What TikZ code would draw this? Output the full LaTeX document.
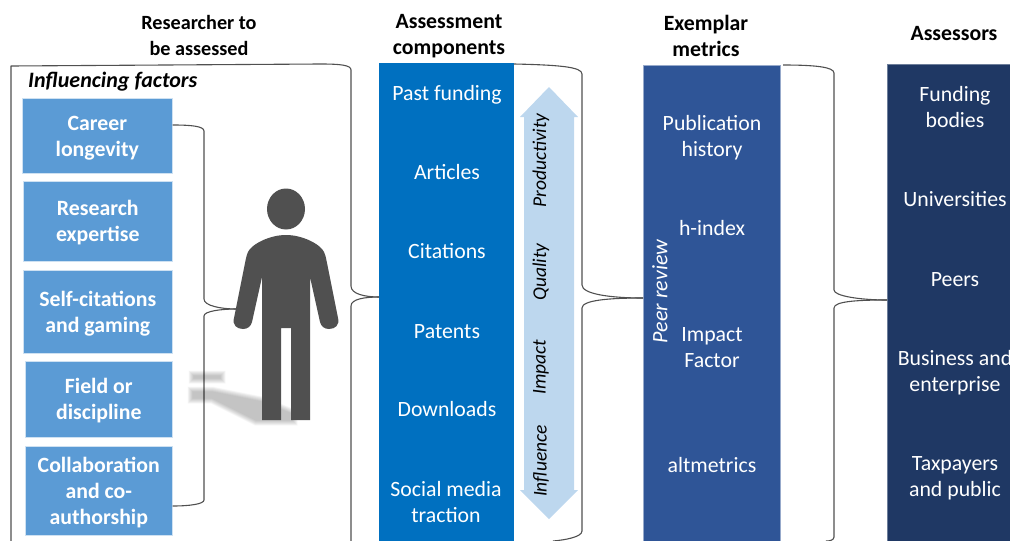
\documentclass[tikz,border=0pt]{standalone}
\usepackage{fontspec}
\setmainfont{Carlito}
\usetikzlibrary{calc}
\definecolor{factorblue}{HTML}{5B9BD5}
\definecolor{compblue}{HTML}{0070C0}
\definecolor{metricblue}{HTML}{2F5597}
\definecolor{assessblue}{HTML}{1F3864}
\definecolor{arrowblue}{HTML}{BDD7EE}
\definecolor{personc}{HTML}{505050}
\definecolor{bracec}{HTML}{505050}
\tikzset{
  x=1pt,y=-1pt,
  txt/.style={font=\fontsize{21.8}{26}\selectfont,align=center,text=white,inner sep=0pt},
  head/.style={font=\fontsize{21.8}{26.5}\selectfont\bfseries,align=center,text=black,inner sep=0pt},
  factor/.style={fill=factorblue,draw=white!70!factorblue,line width=.6pt,inner sep=0pt,font=\fontsize{21.8}{26}\selectfont\bfseries,text=white},
  band/.style={font=\fontsize{19.5}{22}\selectfont\itshape,text=black,rotate=90,inner sep=0pt},
  bracket/.style={draw=bracec,line width=1.1pt,line join=round},
}
\newcommand{\factorbox}[5]{\node[factor,minimum width=#3 pt,minimum height=#4 pt,anchor=north west] (#1) at #2 {\raisebox{-2pt}[\height][\depth]{\begin{tabular}{@{}c@{}}#5\end{tabular}}};}
\begin{document}
\begin{tikzpicture}
\useasboundingbox (0,0) rectangle (1010,541);
% column fills
\fill[compblue] (379,63) rectangle (514,545);
\draw[fill=metricblue,draw=white!50!metricblue,line width=.6pt] (643,65) rectangle (780,545);
\draw[fill=assessblue,draw=white!35!assessblue,line width=.6pt] (887,64) rectangle (1015,545);
\coordinate (compw) at (379,297);
\coordinate (metw) at (643,298);
\coordinate (assw) at (887,300);
% headings
\node[head,font=\fontsize{20.2}{26.5}\selectfont\bfseries] (h1) at (199,35.5) {Researcher to\\be assessed};
\node[head] (h2) at (449,36) {Assessment\\components};
\node[head] (h3) at (706,36) {Exemplar\\metrics};
\node[head] (h4) at (954,34) {Assessors};
% outer bracket
\draw[bracket] (11,545) -- (11,66) -- (320,64) .. controls (340,64) and (351,65) .. (351,70) -- (351,286) .. controls (351,294) and (365,297) .. (compw);
\draw[bracket] (compw) .. controls (365,297) and (351,299) .. (351,306) -- (351,545);
% second bracket
\draw[bracket] (514,64) .. controls (560,65) and (582,67) .. (582,74) -- (582,285) .. controls (582,294) and (610,298) .. (metw);
\draw[bracket] (metw) .. controls (610,298) and (582,300) .. (582,308) -- (582,531) .. controls (582,537) and (565,540) .. (553,541);
% third bracket
\draw[bracket] (783,65) .. controls (815,65) and (834,67) .. (834,73) -- (834,290) .. controls (834,296) and (860,300) .. (assw);
\draw[bracket] (assw) .. controls (860,300) and (834,301) .. (834,308) -- (834,537) .. controls (834,540) and (830,541) .. (826,541);
% factor boxes
\factorbox{f1}{(22,98)}{150}{75}{Career\\longevity}
\factorbox{f2}{(23,181)}{149}{80}{Research\\expertise}
\factorbox{f3}{(23,270)}{149}{83}{Self-citations\\and gaming}
\factorbox{f4}{(25,361)}{147}{76}{Field or\\discipline}
\factorbox{f5}{(25,446)}{147}{89}{Collaboration\\and co-\\authorship}
\node[font=\fontsize{22}{26}\selectfont\bfseries\itshape,text=black,anchor=west,inner sep=0pt] (inf) at (28,82) {Influencing factors};
% inner bracket
\coordinate (personw) at (236,309);
\draw[bracket] (f1.east|-0,125) .. controls (190,125) and (204,126) .. (204,131) -- (204,299) .. controls (204,306) and (222,309) .. (personw);
\draw[bracket] (personw) .. controls (222,309) and (204,311) .. (204,316) -- (204,500) .. controls (204,504) and (190,506) .. (f5.east|-0,506);
% shadow
\foreach \w in {1,2,...,11}{
  \begin{scope}[transparency group,opacity=.024,line cap=round,line join=round]
  \filldraw[black,line width=\w pt]
    (194,376) -- (220,376) -- (220,378) -- (194,378) -- cycle
    (193,392) -- (212,392) -- (262,402) -- (292,414) -- (292,420) -- (256,420) -- (212,398) -- (193,398) -- cycle;
  \end{scope}
}
% person
\fill[personc] (286,209) ellipse (19 and 20.5);
\fill[personc] (286,235)
  .. controls (270,235) and (255,243) .. (250,249)
  .. controls (247,252) and (246,258) .. (245,263)
  -- (234,318)
  .. controls (232,325) and (237,329) .. (243,329)
  .. controls (248,329) and (251,326) .. (252,322)
  -- (262,277) -- (262,420) -- (281,420) -- (281,328) -- (291,328) -- (291,420) -- (310,420) -- (310,277)
  -- (320,322)
  .. controls (321,326) and (324,329) .. (329,329)
  .. controls (335,329) and (340,325) .. (338,318)
  -- (327,263)
  .. controls (326,258) and (325,252) .. (322,249)
  .. controls (317,243) and (302,235) .. (286,235) -- cycle;
% double arrow
\fill[arrowblue] (549,87) -- (578,117) -- (574,117) -- (574,490) -- (578,490) -- (549,519) -- (520,490) -- (524,490) -- (524,117) -- (520,117) -- cycle;
\node[band] (b1) at (541,160.5) {Productivity};
\node[band] (b2) at (541,272) {Quality};
\node[band] (b3) at (541,367) {Impact};
\node[band] (b4) at (541,461) {Influence};
% component labels
\node[txt] (c1) at (447,95) {Past funding};
\node[txt] (c2) at (447,172) {Articles};
\node[txt] (c3) at (447,251) {Citations};
\node[txt] (c4) at (447,332) {Patents};
\node[txt] (c5) at (447,409) {Downloads};
\node[txt] (c6) at (446,502) {Social media\\traction};
% metrics
\node[txt] (m1) at (712,138) {Publication\\history};
\node[txt] (m2) at (712,228) {h-index};
\node[txt] (m3) at (712,348) {Impact\\Factor};
\node[txt] (m4) at (712,465) {altmetrics};
\node[txt,rotate=90,font=\fontsize{22}{26}\selectfont\itshape] (pr) at (660,291.5) {Peer review};
% assessors
\node[txt] (a1) at (955,107) {Funding\\bodies};
\node[txt] (a2) at (955,199) {Universities};
\node[txt] (a3) at (955,280) {Peers};
\node[txt] (a4) at (955,373) {Business and\\enterprise};
\node[txt] (a5) at (955,478) {Taxpayers\\and public};
\end{tikzpicture}
\end{document}
